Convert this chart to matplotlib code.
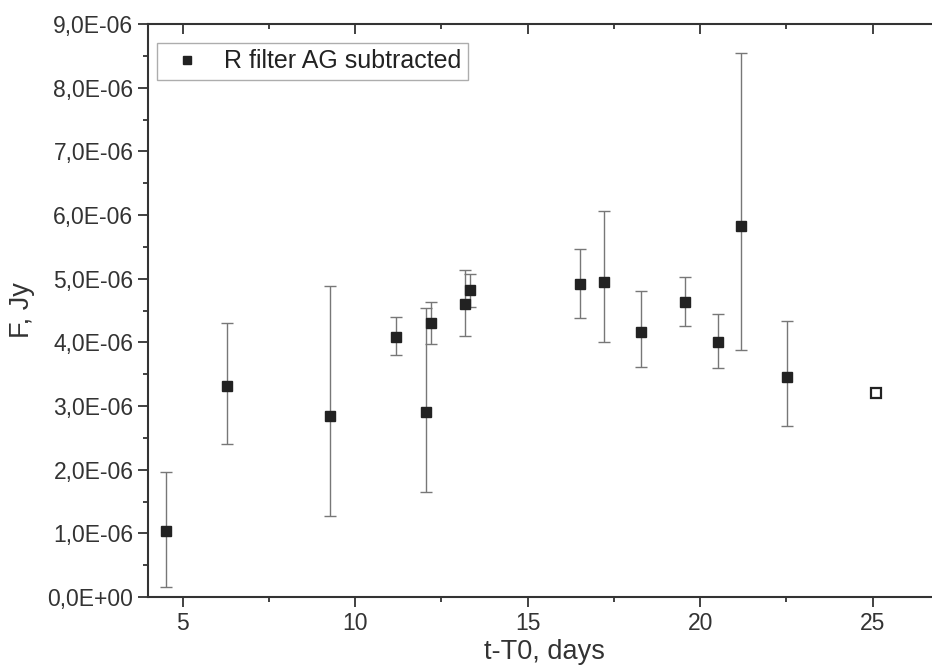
import matplotlib
matplotlib.use("Agg")
import matplotlib.pyplot as plt
from matplotlib.ticker import MultipleLocator, FuncFormatter
from matplotlib.lines import Line2D

plt.rcParams['font.family'] = ['Liberation Sans', 'DejaVu Sans']

# data (flux in units of 1e-6 Jy)
t_days = [4.52, 6.29, 9.27, 11.18, 12.07, 12.20, 13.18, 13.33,
          16.52, 17.22, 18.28, 19.55, 20.53, 21.17, 22.52]
flux = [1.04, 3.31, 2.84, 4.09, 2.91, 4.30, 4.60, 4.82,
        4.91, 4.95, 4.17, 4.63, 4.00, 5.83, 3.45]
err_hi = [1.97, 4.30, 4.89, 4.40, 4.54, 4.63, 5.13, 5.08,
          5.47, 6.06, 4.80, 5.02, 4.45, 8.55, 4.34]
err_lo = [0.16, 2.41, 1.28, 3.80, 1.65, 3.97, 4.10, 4.56,
          4.39, 4.00, 3.61, 4.26, 3.60, 3.88, 2.69]
open_t = [25.1]
open_flux = [3.21]

scale = 1e-6
y = [v * scale for v in flux]
yerr_lo = [(f - l) * scale for f, l in zip(flux, err_lo)]
yerr_hi = [(h - f) * scale for f, h in zip(flux, err_hi)]

W, H = 932, 666
fig = plt.figure(figsize=(W / 100, H / 100), dpi=100)
left_px, right_px, top_px, bot_px = 148, 941.7, 24, 597
ax = fig.add_axes([left_px / W, 1 - bot_px / H, (right_px - left_px) / W, (bot_px - top_px) / H])

dark = '#222222'
ax.errorbar(t_days, y, yerr=[yerr_lo, yerr_hi], fmt='s', color=dark, ms=7.4,
            mec=dark, ecolor='#777777', elinewidth=1.0, capsize=4.3, capthick=1.0,
            zorder=3)
ax.plot(open_t, [v * scale for v in open_flux], 's', ms=6.6, mfc='white',
        mec=dark, mew=1.6, zorder=3)

ax.set_xlim(4, 27)
ax.set_ylim(0, 9e-6)
ax.xaxis.set_major_locator(MultipleLocator(5))
ax.xaxis.set_minor_locator(MultipleLocator(2.5))
ax.yaxis.set_major_locator(MultipleLocator(1e-6))
ax.yaxis.set_minor_locator(MultipleLocator(0.5e-6))
ax.yaxis.set_major_formatter(FuncFormatter(lambda v, p: f"{v:.1E}".replace('.', ',')))

spine_c = '#333333'
for s in ['left', 'bottom', 'top', 'right']:
    ax.spines[s].set_color(spine_c)
    ax.spines[s].set_linewidth(1.5)
ax.spines['right'].set_visible(False)

ax.tick_params(axis='both', which='major', labelsize=16.5, colors=spine_c, width=1.3)
ax.tick_params(axis='both', which='minor', colors=spine_c, width=1.3)
ax.tick_params(axis='x', which='major', direction='out', length=7, top=False)
ax.tick_params(axis='x', which='minor', direction='out', length=3.5, top=False)
ax.tick_params(axis='y', which='major', direction='out', length=7, right=False)
ax.tick_params(axis='y', which='minor', direction='out', length=3.5, right=False)
ax.tick_params(axis='both', labelcolor='#333333')

# inward ticks on top
axt = ax.secondary_xaxis('top')
axt.xaxis.set_major_locator(MultipleLocator(5))
axt.xaxis.set_minor_locator(MultipleLocator(2.5))
axt.tick_params(which='major', direction='in', length=7, width=1.3, colors=spine_c, labeltop=False)
axt.tick_params(which='minor', direction='in', length=3.5, width=1.3, colors=spine_c)
axt.spines['top'].set_visible(False)

ax.set_xlabel('t-T0, days', fontsize=19.5, color='#333333')
ax.set_ylabel('F, Jy', fontsize=19.5, color='#333333')
ax.xaxis.set_label_coords(0.5, (bot_px - 639) / (bot_px - top_px))
ax.yaxis.set_label_coords((35 - left_px) / (right_px - left_px), 0.5)

handle = Line2D([], [], linestyle='none', marker='s', ms=6.0, color=dark)
leg = ax.legend([handle], ['R filter AG subtracted'], loc='upper left',
                bbox_to_anchor=((157 - left_px) / (right_px - left_px), (bot_px - 43) / (bot_px - top_px)),
                borderaxespad=0, fontsize=18, frameon=True, fancybox=False, handlelength=1.9,
                handletextpad=0.55, borderpad=0.25)
leg.get_frame().set_edgecolor('#999999')
leg.get_frame().set_linewidth(1.0)
for t in leg.get_texts():
    t.set_color('#222222')

fig.savefig('out.png', dpi=100)
